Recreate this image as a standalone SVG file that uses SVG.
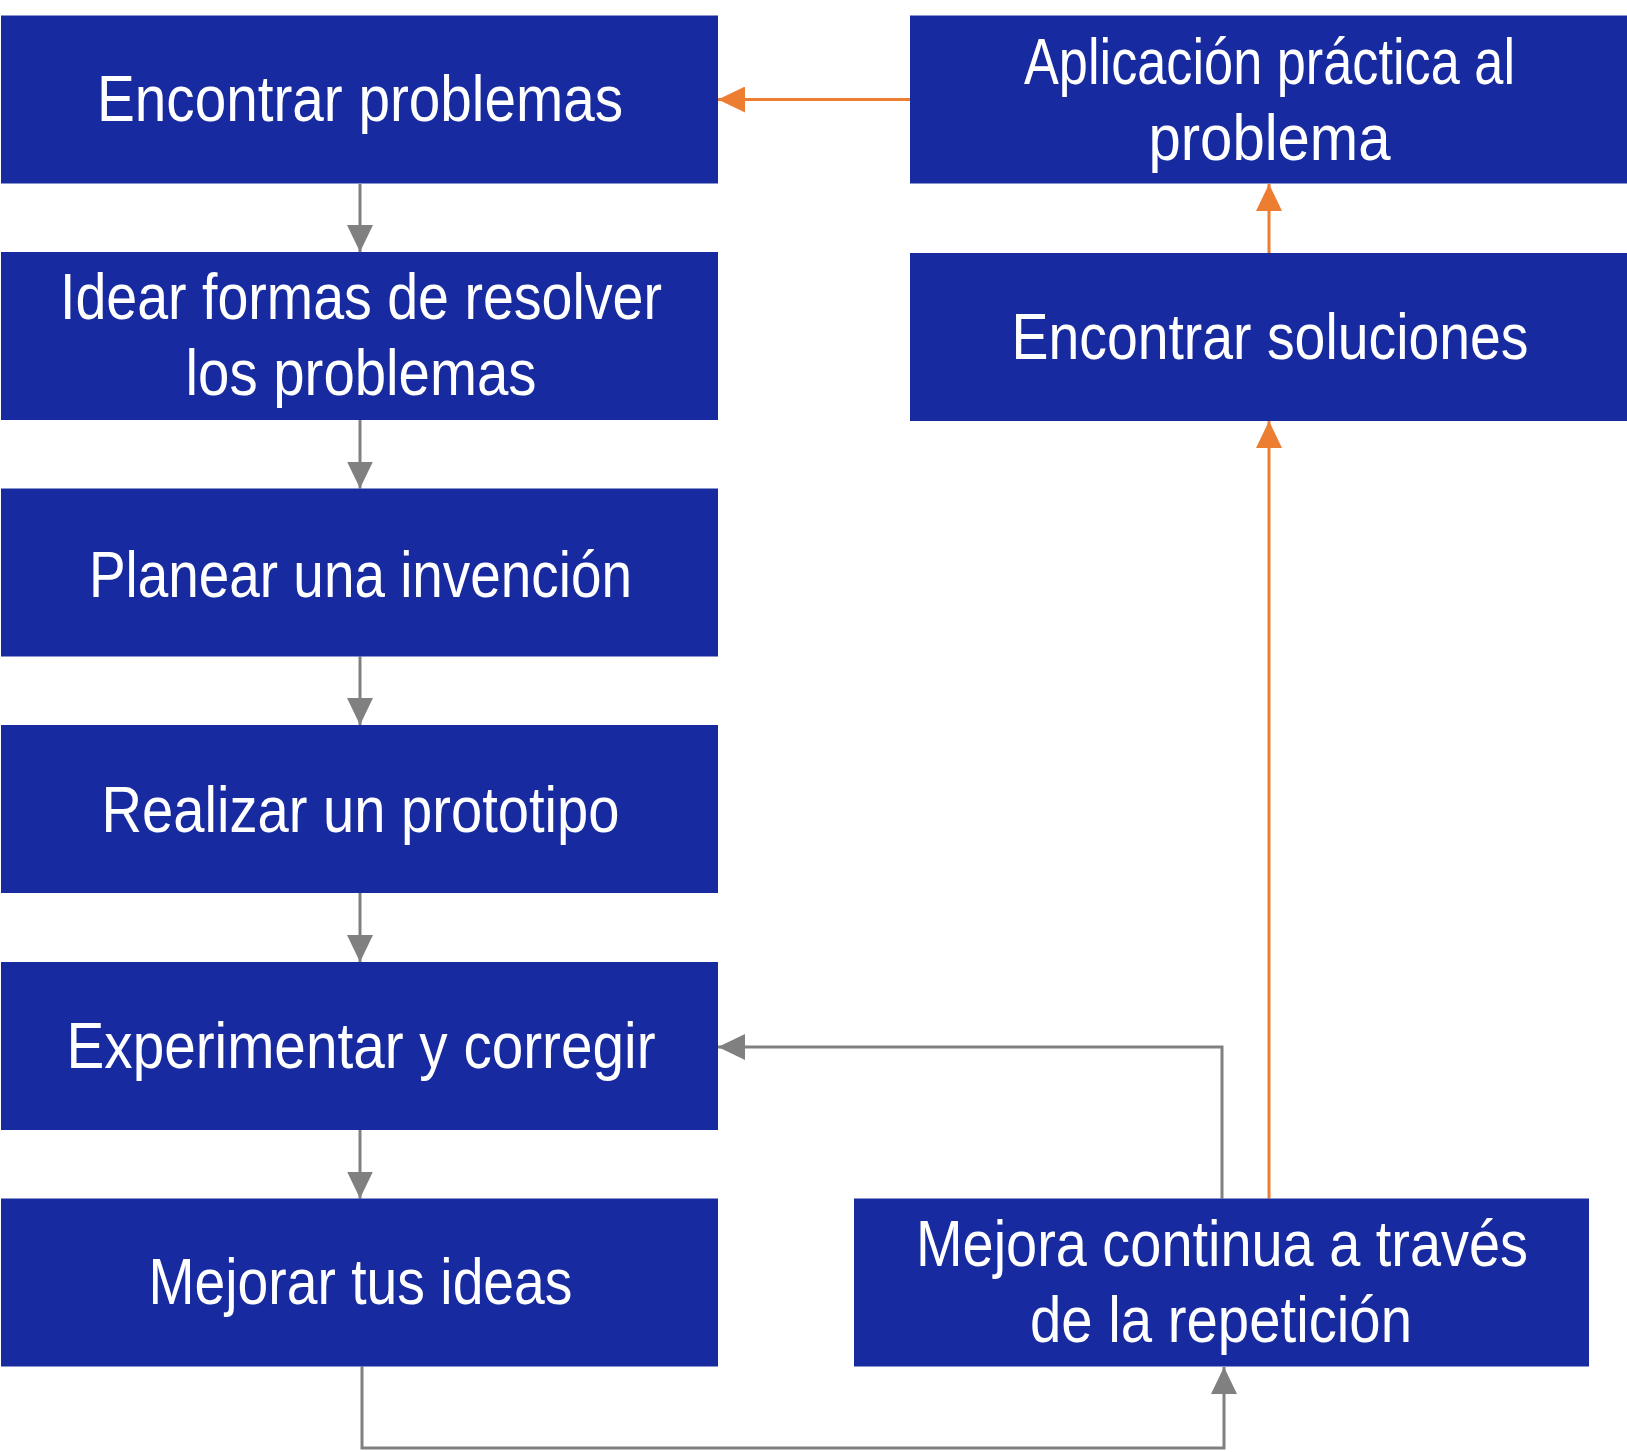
<svg xmlns="http://www.w3.org/2000/svg" width="1627" height="1452" viewBox="0 0 1627 1452">
<style>
.box{fill:#172A9F;}
.t{font-family:"Liberation Sans",Arial,sans-serif;font-size:64px;fill:#ffffff;text-anchor:middle;}
.g{stroke:#808080;stroke-width:3;fill:none;}
.o{stroke:#ED7D31;stroke-width:3;fill:none;}
</style>
<defs>
<marker id="ag" markerUnits="userSpaceOnUse" markerWidth="27" markerHeight="26" refX="27" refY="13" orient="auto">
<path d="M0,0 L27,13 L0,26 z" fill="#808080"/>
</marker>
<marker id="ao" markerUnits="userSpaceOnUse" markerWidth="27" markerHeight="26" refX="27" refY="13" orient="auto">
<path d="M0,0 L27,13 L0,26 z" fill="#ED7D31"/>
</marker>
</defs>
<rect width="1627" height="1452" fill="#ffffff"/>
<g id="connectors">
<line class="g" x1="360" y1="184" x2="360" y2="252" marker-end="url(#ag)"/>
<line class="g" x1="360" y1="420" x2="360" y2="488.5" marker-end="url(#ag)"/>
<line class="g" x1="360" y1="656.5" x2="360" y2="725" marker-end="url(#ag)"/>
<line class="g" x1="360" y1="893" x2="360" y2="962" marker-end="url(#ag)"/>
<line class="g" x1="360" y1="1130" x2="360" y2="1198.5" marker-end="url(#ag)"/>
<polyline class="g" points="1222,1198.5 1222,1047 718,1047" marker-end="url(#ag)"/>
<polyline class="g" points="362,1366.5 362,1448 1224,1448 1224,1367" marker-end="url(#ag)"/>
<line class="o" x1="1269" y1="1198.5" x2="1269" y2="421" marker-end="url(#ao)"/>
<line class="o" x1="1269" y1="253" x2="1269" y2="184" marker-end="url(#ao)"/>
<line class="o" x1="910" y1="99.5" x2="718" y2="99.5" marker-end="url(#ao)"/>
</g>
<g id="n1"><rect class="box" x="1" y="15.5" width="717" height="168"/><text class="t" x="360" y="121" textLength="526" lengthAdjust="spacingAndGlyphs">Encontrar problemas</text></g>
<g id="n2"><rect class="box" x="1" y="252" width="717" height="168"/><text class="t" x="361" y="319" textLength="602" lengthAdjust="spacingAndGlyphs">Idear formas de resolver</text><text class="t" x="361" y="395" textLength="351" lengthAdjust="spacingAndGlyphs">los problemas</text></g>
<g id="n3"><rect class="box" x="1" y="488.5" width="717" height="168"/><text class="t" x="360.5" y="596.5" textLength="543" lengthAdjust="spacingAndGlyphs">Planear una invención</text></g>
<g id="n4"><rect class="box" x="1" y="725" width="717" height="168"/><text class="t" x="360.5" y="832" textLength="518" lengthAdjust="spacingAndGlyphs">Realizar un prototipo</text></g>
<g id="n5"><rect class="box" x="1" y="962" width="717" height="168"/><text class="t" x="361" y="1068" textLength="589" lengthAdjust="spacingAndGlyphs">Experimentar y corregir</text></g>
<g id="n6"><rect class="box" x="1" y="1198.5" width="717" height="168"/><text class="t" x="360.5" y="1303.5" textLength="424" lengthAdjust="spacingAndGlyphs">Mejorar tus ideas</text></g>
<g id="nA"><rect class="box" x="910" y="15.5" width="717" height="168"/><text class="t" x="1269.5" y="83.5" textLength="491" lengthAdjust="spacingAndGlyphs">Aplicación práctica al</text><text class="t" x="1269.5" y="159.5" textLength="242" lengthAdjust="spacingAndGlyphs">problema</text></g>
<g id="nB"><rect class="box" x="910" y="253" width="717" height="168"/><text class="t" x="1270" y="358.5" textLength="517" lengthAdjust="spacingAndGlyphs">Encontrar soluciones</text></g>
<g id="nC"><rect class="box" x="854" y="1198.5" width="735" height="168"/><text class="t" x="1222" y="1265.5" textLength="612" lengthAdjust="spacingAndGlyphs">Mejora continua a través</text><text class="t" x="1221" y="1342" textLength="382" lengthAdjust="spacingAndGlyphs">de la repetición</text></g>
</svg>
